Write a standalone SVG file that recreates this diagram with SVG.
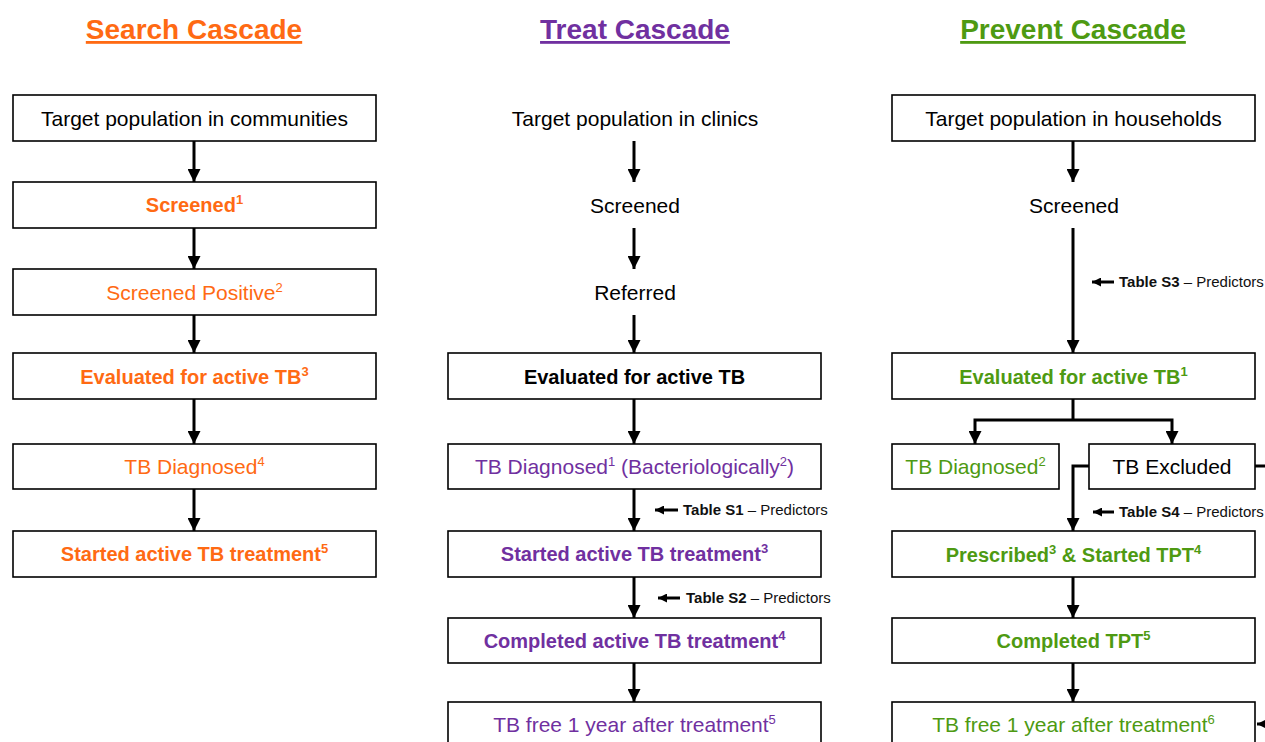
<svg xmlns="http://www.w3.org/2000/svg" width="1265" height="742" viewBox="0 0 1265 742">
<style>
text{font-family:"Liberation Sans",Arial,sans-serif;text-anchor:middle;font-size:21px;fill:#000}
.b{font-weight:bold;font-size:20px}
.h{font-weight:bold;font-size:28px;text-decoration:underline}
.or{fill:#FF6A13}.pu{fill:#7030A0}.gr{fill:#4E9A12}
.sup{font-size:13px}
rect{fill:#fff;stroke:#000;stroke-width:1.6}
.c line,.c path{stroke:#000;stroke-width:3;fill:none}
.a{font-size:15px;text-anchor:start;fill:#111}
.a .t{font-weight:bold}
</style>
<defs>
<marker id="ah" viewBox="0 0 12 12" refX="12" refY="6" markerWidth="13" markerHeight="13" markerUnits="userSpaceOnUse" orient="auto"><path d="M0,0 L12,6 L0,12 z" fill="#000"/></marker>
<marker id="as" viewBox="0 0 8 8" refX="8" refY="4" markerWidth="9" markerHeight="9" markerUnits="userSpaceOnUse" orient="auto"><path d="M0,0 L8,4 L0,8 z" fill="#000"/></marker>
</defs>
<rect x="0" y="0" width="1265" height="742" style="stroke:none"/>
<g id="headers">
<text class="h or" x="194" y="39">Search Cascade</text>
<text class="h pu" x="635" y="39">Treat Cascade</text>
<text class="h gr" x="1073" y="39">Prevent Cascade</text>
</g>
<g class="c" id="connectors">
<line x1="194" y1="141" x2="194" y2="182" marker-end="url(#ah)"/>
<line x1="194" y1="228" x2="194" y2="269" marker-end="url(#ah)"/>
<line x1="194" y1="315" x2="194" y2="353" marker-end="url(#ah)"/>
<line x1="194" y1="399" x2="194" y2="444" marker-end="url(#ah)"/>
<line x1="194" y1="489" x2="194" y2="531" marker-end="url(#ah)"/>
<line x1="634" y1="141" x2="634" y2="182" marker-end="url(#ah)"/>
<line x1="634" y1="228" x2="634" y2="269" marker-end="url(#ah)"/>
<line x1="634" y1="315" x2="634" y2="353" marker-end="url(#ah)"/>
<line x1="634" y1="399" x2="634" y2="444" marker-end="url(#ah)"/>
<line x1="634" y1="489" x2="634" y2="531" marker-end="url(#ah)"/>
<line x1="634" y1="577" x2="634" y2="618" marker-end="url(#ah)"/>
<line x1="634" y1="663" x2="634" y2="702" marker-end="url(#ah)"/>
<line x1="1073" y1="141" x2="1073" y2="182" marker-end="url(#ah)"/>
<line x1="1073" y1="228" x2="1073" y2="353" marker-end="url(#ah)"/>
<path d="M1073,399 V420"/>
<path d="M1073,420 H975 V444" marker-end="url(#ah)"/>
<path d="M1073,420 H1172 V444" marker-end="url(#ah)"/>
<path d="M1089,466 H1073 V531" marker-end="url(#ah)"/>
<line x1="1255" y1="466" x2="1265" y2="466"/>
<line x1="1073" y1="577" x2="1073" y2="618" marker-end="url(#ah)"/>
<line x1="1073" y1="663" x2="1073" y2="702" marker-end="url(#ah)"/>
<line x1="1275" y1="724" x2="1257" y2="724" marker-end="url(#ah)"/>
<line x1="678" y1="510" x2="655" y2="510" marker-end="url(#as)"/>
<line x1="680" y1="598" x2="658" y2="598" marker-end="url(#as)"/>
<line x1="1114" y1="282" x2="1092" y2="282" marker-end="url(#as)"/>
<line x1="1114" y1="512" x2="1093" y2="512" marker-end="url(#as)"/>
</g>
<g id="annotations">
<text class="a" x="683" y="515"><tspan class="t">Table S1</tspan> – Predictors</text>
<text class="a" x="686" y="603"><tspan class="t">Table S2</tspan> – Predictors</text>
<text class="a" x="1119" y="287"><tspan class="t">Table S3</tspan> – Predictors</text>
<text class="a" x="1119" y="517"><tspan class="t">Table S4</tspan> – Predictors</text>
</g>
<g id="search-1"><rect x="13" y="95" width="363" height="46"/><text x="194.5" y="126">Target population in communities</text></g>
<g id="search-2"><rect x="13" y="182" width="363" height="46"/><text class="b or" x="194.5" y="212">Screened<tspan class="sup" dy="-8">1</tspan></text></g>
<g id="search-3"><rect x="13" y="269" width="363" height="46"/><text class="or" x="194.5" y="300">Screened Positive<tspan class="sup" dy="-8">2</tspan></text></g>
<g id="search-4"><rect x="13" y="353" width="363" height="46"/><text class="b or" x="194.5" y="384">Evaluated for active TB<tspan class="sup" dy="-8">3</tspan></text></g>
<g id="search-5"><rect x="13" y="444" width="363" height="45"/><text class="or" x="194.5" y="474">TB Diagnosed<tspan class="sup" dy="-8">4</tspan></text></g>
<g id="search-6"><rect x="13" y="531" width="363" height="46"/><text class="b or" x="194.5" y="561">Started active TB treatment<tspan class="sup" dy="-8">5</tspan></text></g>
<g id="treat-1"><text x="635" y="126">Target population in clinics</text></g>
<g id="treat-2"><text x="635" y="213">Screened</text></g>
<g id="treat-3"><text x="635" y="300">Referred</text></g>
<g id="treat-4"><rect x="448" y="353" width="373" height="46"/><text class="b" x="634.5" y="384">Evaluated for active TB</text></g>
<g id="treat-5"><rect x="448" y="444" width="373" height="45"/><text class="pu" x="634.5" y="474">TB Diagnosed<tspan class="sup" dy="-8">1</tspan><tspan dy="8"> (Bacteriologically</tspan><tspan class="sup" dy="-8">2</tspan><tspan dy="8">)</tspan></text></g>
<g id="treat-6"><rect x="448" y="531" width="373" height="46"/><text class="b pu" x="634.5" y="561">Started active TB treatment<tspan class="sup" dy="-8">3</tspan></text></g>
<g id="treat-7"><rect x="448" y="618" width="373" height="45"/><text class="b pu" x="634.5" y="648">Completed active TB treatment<tspan class="sup" dy="-8">4</tspan></text></g>
<g id="treat-8"><rect x="448" y="702" width="373" height="46"/><text class="pu" x="634.5" y="732">TB free 1 year after treatment<tspan class="sup" dy="-8">5</tspan></text></g>
<g id="prevent-1"><rect x="892" y="95" width="363" height="46"/><text x="1073.5" y="126">Target population in households</text></g>
<g id="prevent-2"><text x="1074" y="213">Screened</text></g>
<g id="prevent-3"><rect x="892" y="353" width="363" height="46"/><text class="b gr" x="1073.5" y="384">Evaluated for active TB<tspan class="sup" dy="-8">1</tspan></text></g>
<g id="prevent-4"><rect x="892" y="444" width="167" height="45"/><text class="gr" x="975.5" y="474">TB Diagnosed<tspan class="sup" dy="-8">2</tspan></text></g>
<g id="prevent-5"><rect x="1089" y="444" width="166" height="45"/><text x="1172" y="474">TB Excluded</text></g>
<g id="prevent-6"><rect x="892" y="531" width="363" height="46"/><text class="b gr" x="1073.5" y="562">Prescribed<tspan class="sup" dy="-8">3</tspan><tspan dy="8"> &amp; Started TPT</tspan><tspan class="sup" dy="-8">4</tspan></text></g>
<g id="prevent-7"><rect x="892" y="618" width="363" height="45"/><text class="b gr" x="1073.5" y="648">Completed TPT<tspan class="sup" dy="-8">5</tspan></text></g>
<g id="prevent-8"><rect x="892" y="702" width="363" height="46"/><text class="gr" x="1073.5" y="732">TB free 1 year after treatment<tspan class="sup" dy="-8">6</tspan></text></g>
</svg>
